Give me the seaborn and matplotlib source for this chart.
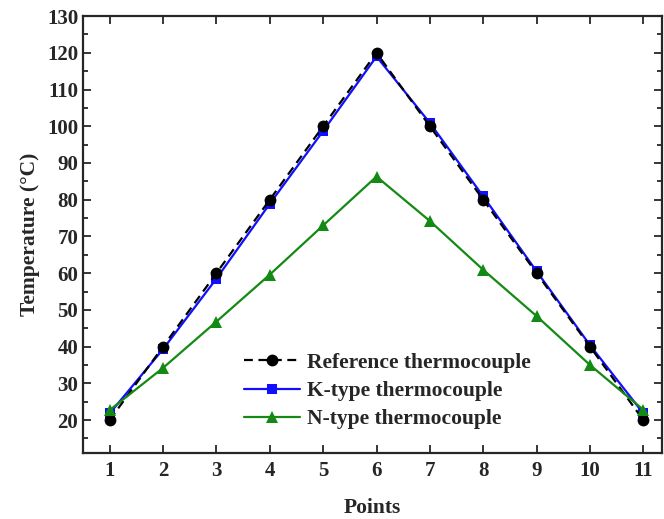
import numpy as np
import pandas as pd
import matplotlib
matplotlib.use("Agg")
import matplotlib.pyplot as plt
from matplotlib.ticker import MultipleLocator
import seaborn as sns

# Readings at each measurement point
points = [1, 2, 3, 4, 5, 6, 7, 8, 9, 10, 11]
reference = [20, 40, 60, 80, 100, 120, 100, 80, 60, 40, 20]
k_type = [21.8, 39.3, 58.5, 78.9, 98.7, 119.0, 100.9, 80.9, 60.5, 40.4, 21.8]
n_type = [22.7, 34.2, 46.8, 59.6, 73.0, 86.3, 74.2, 60.9, 48.3, 35.0, 22.8]

sns.set_style("ticks")
plt.rcParams['font.family'] = ['Liberation Serif', 'DejaVu Serif']
plt.rcParams['font.weight'] = 'bold'
plt.rcParams['axes.labelweight'] = 'bold'

fig = plt.figure(figsize=(6.64, 5.19), dpi=100)
ax = fig.add_axes([0.125, 0.127, 0.872, 0.842])

sns.lineplot(x=points, y=k_type, ax=ax, color='#1010ff', marker='s', markersize=7,
             markeredgewidth=0, linewidth=1.6, label='K-type thermocouple', zorder=3)
sns.lineplot(x=points, y=reference, ax=ax, color='black', marker='o', markersize=8.5,
             markeredgewidth=0, linewidth=1.6, linestyle=(0, (4, 2.5)),
             label='Reference thermocouple', zorder=4)
sns.lineplot(x=points, y=n_type, ax=ax, color='#138a13', marker='^', markersize=8.5,
             markeredgewidth=0, linewidth=1.6, label='N-type thermocouple', zorder=5)

ax.set_xlim(0.5, 11.35)
ax.set_ylim(11, 130)
ax.set_xticks(points)
ax.yaxis.set_major_locator(MultipleLocator(10))
ax.yaxis.set_minor_locator(MultipleLocator(5))
ax.set_yticks(np.arange(20, 131, 10))

ax.tick_params(axis='both', which='both', direction='in', top=True, right=True,
               labelsize=15, width=1.3)
ax.tick_params(which='major', length=6)
ax.tick_params(which='minor', length=3.5)
ax.tick_params(axis='x', pad=6)
for s in ax.spines.values():
    s.set_linewidth(1.6)

ax.set_xlabel('Points', fontsize=15.5, fontweight='bold', labelpad=12)
ax.set_ylabel('Temperature (°C)', fontsize=15.5, fontweight='bold', labelpad=5)

handles, labels = ax.get_legend_handles_labels()
order = [1, 0, 2]
ax.legend([handles[i] for i in order], [labels[i] for i in order],
          loc='lower left', bbox_to_anchor=(0.245, 0.01), frameon=False,
          prop={'size': 15.5, 'weight': 'bold'}, handlelength=2.6,
          handletextpad=0.3, labelspacing=0.38)

fig.savefig('out.png', dpi=100)
